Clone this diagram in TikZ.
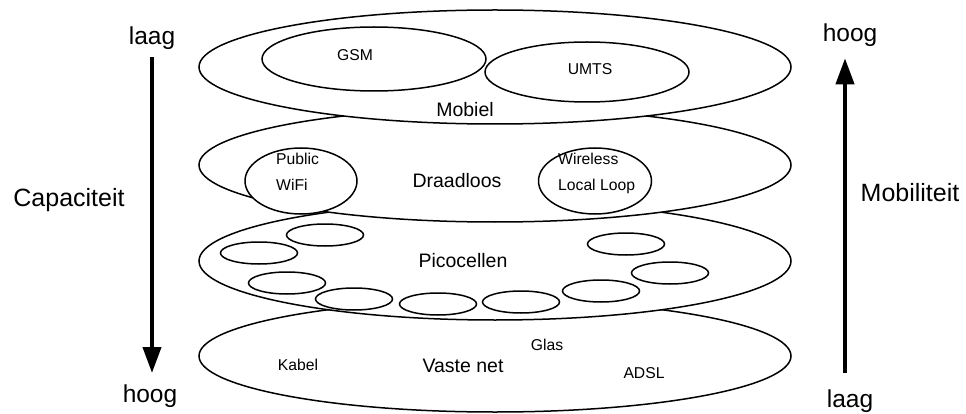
\documentclass[tikz,border=0pt]{standalone}
\usepackage{fontspec}
\setmainfont{Liberation Sans}
\usetikzlibrary{shapes.geometric,arrows.meta}
\begin{document}
\begin{tikzpicture}[x=1pt,y=-1pt,
  layer/.style={ellipse,draw,fill=white,line width=1.5pt,inner sep=0pt,minimum width=592pt,minimum height=#1},
  subell/.style n args={2}{ellipse,draw,fill=white,line width=1.5pt,inner sep=0pt,minimum width=#1,minimum height=#2},
  pico/.style={ellipse,draw,fill=white,line width=1.5pt,inner sep=0pt,minimum width=77pt,minimum height=22pt},
  titletxt/.style={font=\fontsize{19.5}{23}\selectfont,inner sep=0pt,anchor=base},
  smalltxt/.style={font=\fontsize{15.7}{25}\selectfont,inner sep=0pt,anchor=base},
  sidetxt/.style={font=\fontsize{25}{30}\selectfont,inner sep=0pt,anchor=base},
  endtxt/.style={font=\fontsize{24.5}{29}\selectfont,inner sep=0pt,anchor=base},
  bigarrow/.style={line width=4pt,-{Triangle[length=26pt,width=18pt]}}
]
\useasboundingbox (0,0) rectangle (966,414);

% layers, drawn bottom first
\node[layer=112pt] (vast) at (495,356) {};
\node[titletxt] (vastT) at (463,372) {Vaste net};
\node[smalltxt] (kabel) at (298,370) {Kabel};
\node[smalltxt] (glas) at (547,350) {Glas};
\node[smalltxt] (adsl) at (644,378) {ADSL};

\node[layer=118pt] (pic) at (495,261) {};
\node[pico] (p1) at (325,235) {};
\node[pico] (p2) at (259,253) {};
\node[pico] (p3) at (287,283) {};
\node[pico] (p4) at (354,299) {};
\node[pico] (p5) at (438,304) {};
\node[pico] (p6) at (521,302) {};
\node[pico] (p7) at (601,291) {};
\node[pico] (p8) at (670,273) {};
\node[pico] (p9) at (626,244) {};
\node[titletxt] (picT) at (463,267) {Picocellen};

\node[layer=114pt] (draad) at (495,165) {};
\node[subell={112pt}{66pt}] (wifi) at (301,181) {};
\node[subell={113pt}{66pt}] (wll) at (595,181) {};
\node[smalltxt,anchor=base west,align=left] (wifiT) at (276,190) {Public\\WiFi};
\node[smalltxt,anchor=base west,align=left] (wllT) at (558,190) {Wireless\\Local Loop};
\node[titletxt] (draadT) at (457,188) {Draadloos};

\node[layer=114pt] (mob) at (495,67) {};
\node[subell={224pt}{64pt}] (gsm) at (374,59) {};
\node[subell={204pt}{60pt}] (umts) at (587,72) {};
\node[smalltxt] (gsmT) at (355,61) {GSM};
\node[smalltxt] (umtsT) at (590,75) {UMTS};
\node[titletxt] (mobT) at (465,117) {Mobiel};

% side labels and arrows
\node[endtxt] (laagL) at (152,45) {laag};
\node[endtxt] (hoogL) at (150,402) {hoog};
\node[sidetxt] (cap) at (69,207) {Capaciteit};
\draw[bigarrow,shorten <=7pt,shorten >=11pt] (laagL.south) -- (laagL.south |- hoogL.north);

\node[endtxt] (hoogR) at (850,42) {hoog};
\node[endtxt] (laagR) at (850,407) {laag};
\node[sidetxt] (mobil) at (910,202) {Mobiliteit};
\draw[bigarrow,shorten <=16pt,shorten >=11pt] (laagR.north) ++(-5pt,0) coordinate (rs) (rs) -- (rs |- hoogR.south);
\end{tikzpicture}
\end{document}
